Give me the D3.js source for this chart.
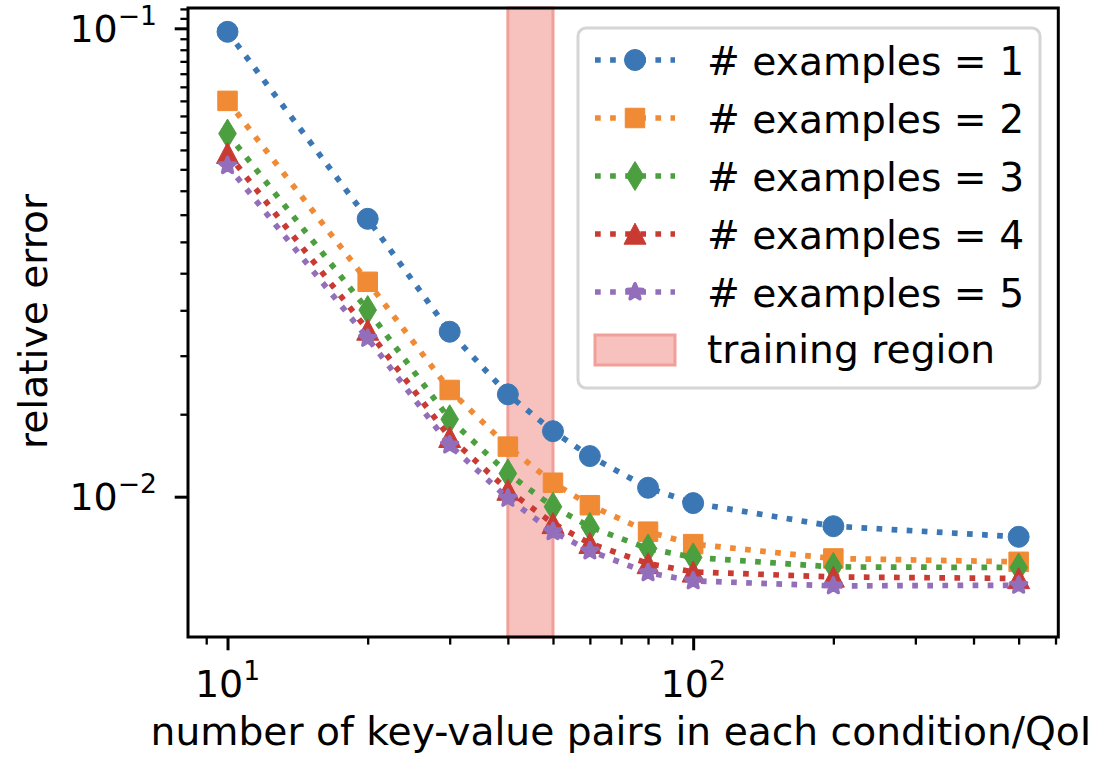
<!DOCTYPE html>
<html>
<head>
<meta charset="utf-8">
<script src="https://cdn.jsdelivr.net/npm/d3@7"></script>
<style>
  body { margin: 0; background: #fff; }
  svg { display: block; }
  text { font-family: "DejaVu Sans", sans-serif; fill: #000; }
</style>
</head>
<body>
<svg id="chart" width="1099" height="761"></svg>
<script>
// ---- data -------------------------------------------------------------
const pairCounts = [10, 20, 30, 40, 50, 60, 80, 100, 200, 500];

const errExamples1 = [0.0983, 0.0392, 0.0225, 0.01654, 0.0138, 0.01221, 0.01045, 0.00969, 0.00865, 0.00821];
const errExamples2 = [0.0700, 0.02876, 0.0169, 0.01279, 0.01071, 0.00959, 0.00842, 0.00792, 0.00738, 0.00726];
const errExamples3 = [0.0596, 0.02503, 0.01463, 0.01121, 0.00952, 0.00862, 0.00775, 0.00742, 0.00708, 0.00706];
const errExamples4 = [0.0541, 0.02269, 0.01339, 0.01033, 0.00877, 0.00795, 0.00720, 0.00691, 0.00674, 0.00669];
const errExamples5 = [0.0509, 0.02178, 0.01289, 0.00992, 0.00842, 0.00766, 0.00688, 0.00661, 0.00645, 0.00647];

const seriesLabels = ["# examples = 1", "# examples = 2", "# examples = 3", "# examples = 4", "# examples = 5"];
const trainingRegion = [40, 50];
const trainingLabel = "training region";

const xMajorTicks = [10, 100];
const xTickExponents = ["1", "2"];
const yMajorTicks = [0.1, 0.01];
const yTickExponents = ["\u22121", "\u22122"];

const xAxisTitle = "number of key-value pairs in each condition/QoI";
const yAxisTitle = "relative error";

// ---- layout / style ---------------------------------------------------
const W = 1099, H = 761;
const plot = { left: 188, right: 1058.3, top: 8, bottom: 637 };
const colors = ["#3a77b4", "#f08a34", "#4b9f3e", "#c93a32", "#926ebb"];
const shapes = ["circle", "square", "thinDiamond", "triangle", "star"];
const lineW = 5.7;
const dash = "5.7,9.4";
const tickFont = 38;
const textFont = 39.2;

const seriesValues = [errExamples1, errExamples2, errExamples3, errExamples4, errExamples5];
const series = seriesValues.map((vals, i) => ({
  label: seriesLabels[i],
  color: colors[i],
  shape: shapes[i],
  points: pairCounts.map((n, j) => ({ n, err: vals[j] }))
}));

const svg = d3.select("#chart");
svg.append("rect").attr("width", W).attr("height", H).attr("fill", "#fff");

const x = d3.scaleLog().domain([8.225, 608.3]).range([plot.left, plot.right]);
const y = d3.scaleLog().domain([0.005017, 0.1105]).range([plot.bottom, plot.top]);

// marker outlines centred at the origin
function markerPath(shape) {
  const p = d3.path();
  if (shape === "circle") {
    p.arc(0, 0, 10.5, 0, 2 * Math.PI);
  } else if (shape === "square") {
    p.rect(-9.75, -9.75, 19.5, 19.5);
  } else if (shape === "thinDiamond") {
    p.moveTo(0, -14.5); p.lineTo(8.8, 0); p.lineTo(0, 14.5); p.lineTo(-8.8, 0); p.closePath();
  } else if (shape === "triangle") {
    p.moveTo(0, -10.8); p.lineTo(11, 10.2); p.lineTo(-11, 10.2); p.closePath();
  } else if (shape === "star") {
    const R = 8.3, r = R * 0.45;
    for (let k = 0; k < 10; k++) {
      const rad = k % 2 === 0 ? R : r;
      const a = -Math.PI / 2 + k * Math.PI / 5;
      const px = rad * Math.cos(a), py = rad * Math.sin(a);
      if (k === 0) p.moveTo(px, py); else p.lineTo(px, py);
    }
    p.closePath();
  }
  return p.toString();
}

function styleMarker(sel, s) {
  sel.attr("fill", s.color)
    .attr("stroke", s.color)
    .attr("stroke-width", s.shape === "star" ? 3.5 : 1)
    .attr("stroke-linejoin", s.shape === "star" ? "round" : "miter");
}

// ---- training region band ---------------------------------------------
svg.append("rect")
  .attr("x", x(trainingRegion[0]))
  .attr("y", plot.top)
  .attr("width", x(trainingRegion[1]) - x(trainingRegion[0]))
  .attr("height", plot.bottom - plot.top)
  .attr("fill", "#f7c1bd")
  .attr("stroke", "#f19f99")
  .attr("stroke-width", 3);

// ---- series ------------------------------------------------------------
const line = d3.line().x(d => x(d.n)).y(d => y(d.err));

series.forEach(s => {
  const g = svg.append("g");
  g.append("path")
    .datum(s.points)
    .attr("d", line)
    .attr("fill", "none")
    .attr("stroke", s.color)
    .attr("stroke-width", lineW)
    .attr("stroke-dasharray", dash)
    .attr("stroke-linecap", "butt");
  g.selectAll("path.mk")
    .data(s.points)
    .join("path")
    .attr("class", "mk")
    .attr("d", markerPath(s.shape))
    .attr("transform", d => `translate(${x(d.n)},${y(d.err)})`)
    .call(sel => styleMarker(sel, s));
});

// ---- axes --------------------------------------------------------------
const majorLen = 13.3, minorLen = 7.6;

function minorTicks(scale, majors) {
  const [lo, hi] = scale.domain();
  return scale.ticks(30).filter(v => v >= lo && v <= hi && !majors.some(m => Math.abs(m - v) / m < 1e-9));
}

const xMinor = minorTicks(x, xMajorTicks);
const yMinor = minorTicks(y, yMajorTicks);

function styleAxis(g, w) {
  g.select(".domain").remove();
  g.selectAll(".tick line").attr("stroke", "#000").attr("stroke-width", w);
  g.selectAll(".tick text").remove();
}

svg.append("g").attr("transform", `translate(0,${plot.bottom})`)
  .call(d3.axisBottom(x).tickValues(xMinor).tickSize(minorLen).tickFormat(""))
  .call(g => styleAxis(g, 2.3));
svg.append("g").attr("transform", `translate(0,${plot.bottom})`)
  .call(d3.axisBottom(x).tickValues(xMajorTicks).tickSize(majorLen).tickFormat(""))
  .call(g => styleAxis(g, 3));
svg.append("g").attr("transform", `translate(${plot.left},0)`)
  .call(d3.axisLeft(y).tickValues(yMinor).tickSize(minorLen).tickFormat(""))
  .call(g => styleAxis(g, 2.3));
svg.append("g").attr("transform", `translate(${plot.left},0)`)
  .call(d3.axisLeft(y).tickValues(yMajorTicks).tickSize(majorLen).tickFormat(""))
  .call(g => styleAxis(g, 3));

// power-of-ten tick labels
function powerLabel(sel, exp) {
  sel.append("tspan").text("10");
  sel.append("tspan").attr("dy", -17).attr("font-size", tickFont * 0.7).text(exp);
}

xMajorTicks.forEach((v, i) => {
  svg.append("text")
    .attr("x", x(v))
    .attr("y", 696.5)
    .attr("text-anchor", "middle")
    .attr("font-size", tickFont)
    .call(t => powerLabel(t, xTickExponents[i]));
});

yMajorTicks.forEach((v, i) => {
  svg.append("text")
    .attr("x", 157)
    .attr("y", y(v) + 13.8)
    .attr("text-anchor", "end")
    .attr("font-size", tickFont)
    .call(t => powerLabel(t, yTickExponents[i]));
});

// frame
svg.append("rect")
  .attr("x", plot.left).attr("y", plot.top)
  .attr("width", plot.right - plot.left).attr("height", plot.bottom - plot.top)
  .attr("fill", "none").attr("stroke", "#000").attr("stroke-width", 3);

// axis titles
svg.append("text")
  .attr("x", 621)
  .attr("y", 745)
  .attr("text-anchor", "middle")
  .attr("font-size", textFont)
  .text(xAxisTitle);

svg.append("text")
  .attr("transform", `translate(47,${(plot.top + plot.bottom) / 2 - 1}) rotate(-90)`)
  .attr("text-anchor", "middle")
  .attr("font-size", textFont)
  .text(yAxisTitle);

// ---- legend ------------------------------------------------------------
const leg = svg.append("g");
leg.append("rect")
  .attr("x", 578).attr("y", 28).attr("width", 462).attr("height", 360)
  .attr("rx", 8).attr("ry", 8)
  .attr("fill", "#fff").attr("fill-opacity", 0.8)
  .attr("stroke", "#d5d5d5").attr("stroke-width", 3);

const rowY0 = 60, rowStep = 58;
const handleX0 = 595, handleX1 = 675, textX = 707;

series.forEach((s, i) => {
  const cy = rowY0 + i * rowStep;
  leg.append("line")
    .attr("x1", handleX0).attr("x2", handleX1).attr("y1", cy).attr("y2", cy)
    .attr("stroke", s.color).attr("stroke-width", lineW)
    .attr("stroke-dasharray", dash);
  leg.append("path")
    .attr("d", markerPath(s.shape))
    .attr("transform", `translate(${(handleX0 + handleX1) / 2},${cy})`)
    .call(sel => styleMarker(sel, s));
  leg.append("text")
    .attr("x", textX).attr("y", cy + 14.5)
    .attr("font-size", textFont)
    .text(s.label);
});

const trainY = rowY0 + series.length * rowStep;
leg.append("rect")
  .attr("x", handleX0).attr("y", trainY - 15)
  .attr("width", handleX1 - handleX0).attr("height", 30)
  .attr("fill", "#f7c1bd").attr("stroke", "#f19f99").attr("stroke-width", 3);
leg.append("text")
  .attr("x", textX).attr("y", trainY + 13)
  .attr("font-size", textFont)
  .text(trainingLabel);
</script>
</body>
</html>
